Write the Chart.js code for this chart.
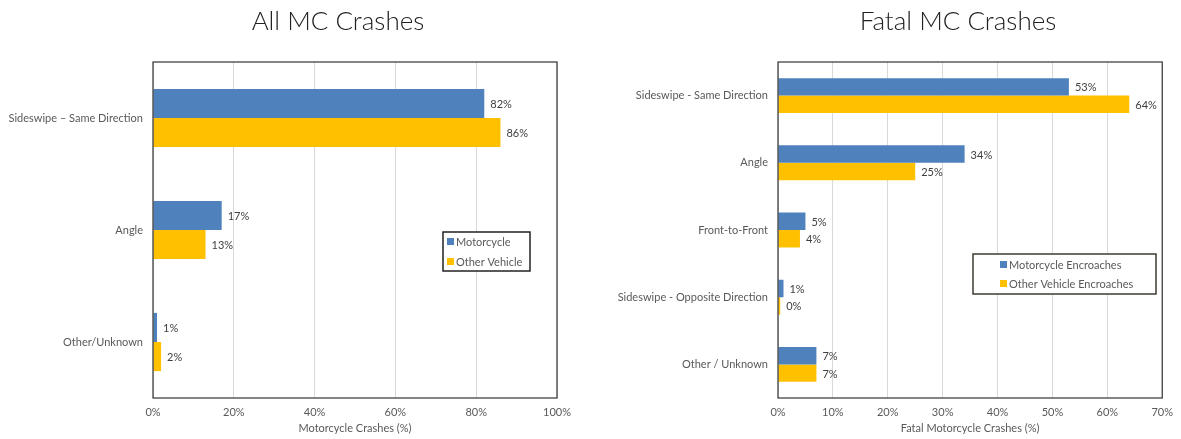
<!DOCTYPE html>
<html>
<head>
<meta charset="utf-8">
<script src="https://cdn.jsdelivr.net/npm/chart.js@4.4.0/dist/chart.umd.min.js"></script>
<style>
  body { margin: 0; background: #fff; }
  #wrap { position: relative; width: 1181px; height: 439px; }
  canvas { position: absolute; top: 0; }
  .title {
    position: absolute; top: 5px; transform: translateX(-50%);
    font-family: Lato, sans-serif; font-weight: 300; font-size: 26px; line-height: 30px;
    color: #222; white-space: nowrap;
  }
</style>
</head>
<body>
<div id="wrap">
  <canvas id="allChart" width="590" height="439" style="left:0"></canvas>
  <canvas id="fatalChart" width="591" height="439" style="left:590px"></canvas>
  <div class="title" style="left:338px">All MC Crashes</div>
  <div class="title" style="left:958px">Fatal MC Crashes</div>
</div>
<script>
// All motorcycle crashes
const allCategories = ["Sideswipe \u2013 Same Direction", "Angle", "Other/Unknown"];
const allMotorcycle = [82, 17, 1];
const allOtherVehicle = [86, 13, 2];
const allTicks = [0, 20, 40, 60, 80, 100];

// Fatal motorcycle crashes
const fatalCategories = ["Sideswipe - Same Direction", "Angle", "Front-to-Front", "Sideswipe - Opposite Direction", "Other / Unknown"];
const fatalMotorcycle = [53, 34, 5, 1, 7];
const fatalOtherVehicle = [64, 25, 4, 0.4, 7];
const fatalTicks = [0, 10, 20, 30, 40, 50, 60, 70];

const BLUE = "#4F81BD";
const GOLD = "#FFC000";
const TEXT = "#595959";
const FONT = "Lato, sans-serif";

// percent labels at the end of each bar
const valueLabels = {
  id: "valueLabels",
  afterDatasetsDraw(chart) {
    const ctx = chart.ctx;
    ctx.save();
    ctx.font = "11px " + FONT;
    ctx.fillStyle = "#404040";
    ctx.textAlign = "left";
    ctx.textBaseline = "middle";
    chart.data.datasets.forEach((ds, i) => {
      chart.getDatasetMeta(i).data.forEach((bar, j) => {
        ctx.fillText(Math.round(ds.data[j]) + "%", bar.x + 6, bar.y + 1);
      });
    });
    ctx.restore();
  }
};

// dark frame round the plot area
const plotFrame = {
  id: "plotFrame",
  afterDraw(chart) {
    const a = chart.chartArea, ctx = chart.ctx;
    ctx.save();
    ctx.strokeStyle = "#333";
    ctx.lineWidth = 1.2;
    ctx.strokeRect(a.left, a.top, a.right - a.left, a.bottom - a.top);
    ctx.restore();
  }
};

// boxed legend sitting inside the plot
const boxLegend = {
  id: "boxLegend",
  afterDraw(chart, args, opts) {
    const ctx = chart.ctx;
    ctx.save();
    ctx.fillStyle = "#fff";
    ctx.fillRect(opts.x, opts.y, opts.w, opts.h);
    ctx.strokeStyle = opts.border;
    ctx.lineWidth = 1.5;
    ctx.strokeRect(opts.x, opts.y, opts.w, opts.h);
    ctx.font = "11px " + FONT;
    ctx.textBaseline = "middle";
    chart.data.datasets.forEach((ds, i) => {
      const cy = opts.y + opts.rows[i];
      ctx.fillStyle = ds.backgroundColor;
      ctx.fillRect(opts.x + opts.swatch, cy - 4, 7, 7);
      ctx.fillStyle = TEXT;
      ctx.fillText(ds.label, opts.x + opts.swatch + 9, cy);
    });
    ctx.restore();
  }
};

function makeChart(id, cats, s1, s2, names, ticks, axisTitle, yWidth, padRight, legend) {
  return new Chart(document.getElementById(id), {
    type: "bar",
    data: {
      labels: cats,
      datasets: [
        { label: names[0], data: s1, backgroundColor: BLUE },
        { label: names[1], data: s2, backgroundColor: GOLD }
      ]
    },
    options: {
      indexAxis: "y",
      responsive: false,
      animation: false,
      categoryPercentage: 0.52,
      barPercentage: 1,
      layout: { padding: { top: 62, right: padRight, bottom: 0, left: 0 } },
      scales: {
        x: {
          min: ticks[0],
          max: ticks[ticks.length - 1],
          ticks: {
            stepSize: ticks[1] - ticks[0],
            color: TEXT,
            font: { family: FONT, size: 11 },
            padding: 8,
            callback: v => v + "%"
          },
          grid: { color: "#d9d9d9", drawTicks: false },
          border: { display: false },
          title: {
            display: true, text: axisTitle, color: TEXT,
            font: { family: FONT, size: 11 }, padding: { top: 0, bottom: 4 }
          },
          afterFit(scale) { scale.height = 41; }
        },
        y: {
          ticks: { color: TEXT, font: { family: FONT, size: 11 }, padding: 10 },
          grid: { display: false, drawTicks: false },
          border: { display: false },
          afterFit(scale) { scale.width = yWidth; }
        }
      },
      plugins: {
        legend: { display: false },
        tooltip: { enabled: false },
        boxLegend: legend
      }
    },
    plugins: [valueLabels, plotFrame, boxLegend]
  });
}

makeChart("allChart", allCategories, allMotorcycle, allOtherVehicle,
  ["Motorcycle", "Other Vehicle"], allTicks, "Motorcycle Crashes (%)", 153, 33,
  { x: 443, y: 232, w: 87, h: 39, swatch: 4, rows: [10, 30], border: "#222" });

makeChart("fatalChart", fatalCategories, fatalMotorcycle, fatalOtherVehicle,
  ["Motorcycle Encroaches", "Other Vehicle Encroaches"], fatalTicks, "Fatal Motorcycle Crashes (%)", 188, 10,
  { x: 383, y: 254, w: 183, h: 40, swatch: 27, rows: [11, 30], border: "#3f3b30" });
</script>
</body>
</html>
